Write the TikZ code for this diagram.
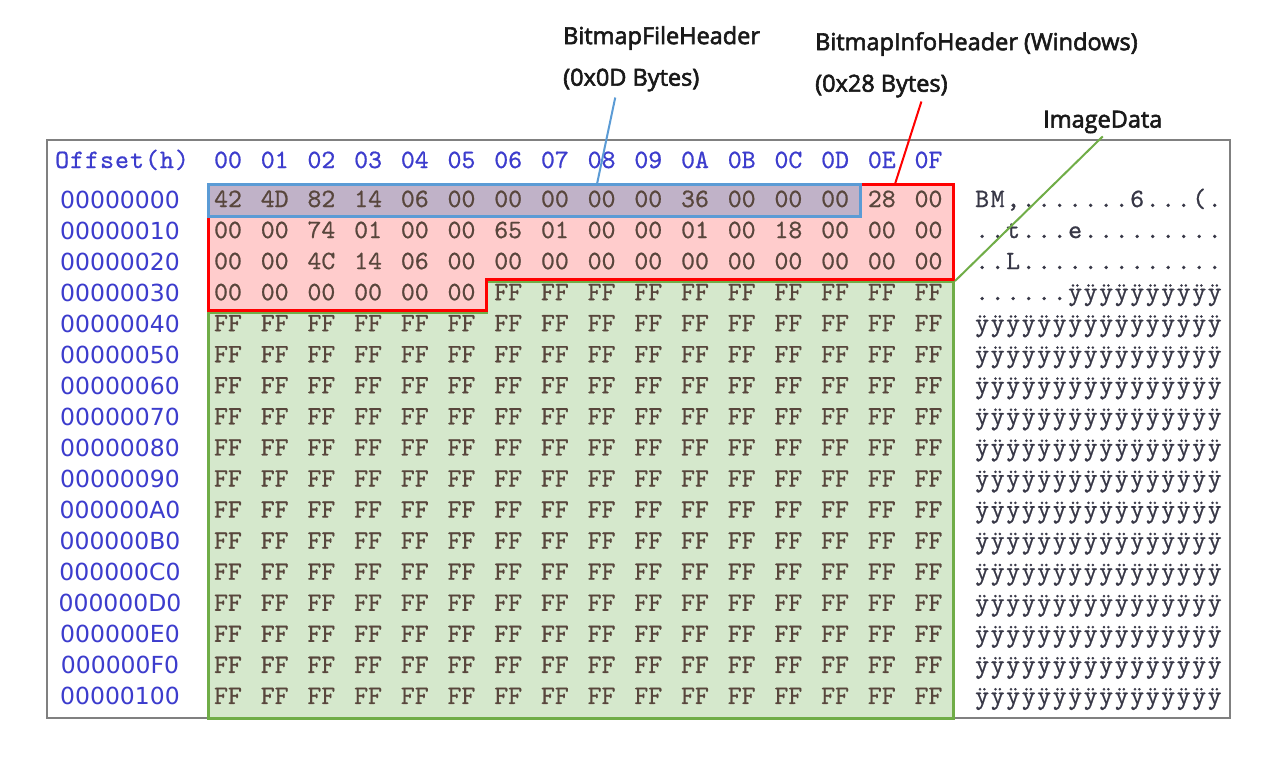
\documentclass[tikz,border=0pt]{standalone}
\usepackage{fontspec}
\usetikzlibrary{positioning}
\newfontfamily\lblfont[FakeBold=2.5]{Open Sans}
\newfontfamily\hexfont[FakeBold=0.7]{lmmono10-regular.otf}
\newfontfamily\headfont[FakeBold=0.7,LetterSpace=4]{lmmono10-regular.otf}
\newfontfamily\ascfont[FakeBold=0.7,LetterSpace=6]{lmmono10-regular.otf}
\newfontfamily\offfont{DejaVu Sans}
\definecolor{fhblue}{RGB}{91,155,213}
\definecolor{fhfill}{RGB}{192,178,200}
\definecolor{ihred}{RGB}{255,0,0}
\definecolor{ihfill}{RGB}{255,204,204}
\definecolor{idgreen}{RGB}{112,173,71}
\definecolor{idfill}{RGB}{213,232,204}
\definecolor{offblue}{RGB}{60,60,205}
\definecolor{hextext}{RGB}{88,70,60}
\definecolor{asctext}{RGB}{55,55,70}
\definecolor{lbltext}{RGB}{25,25,25}
\tikzset{
  panel/.style={draw=black!50, line width=1.5pt, fill=white},
  hexcell/.style={font=\hexfont\fontsize{26.5}{28}\selectfont, text=hextext, inner sep=0pt, anchor=base},
  colhead/.style={hexcell, text=offblue},
  offcell/.style={font=\offfont\fontsize{23.5}{26}\selectfont, text=offblue, inner sep=0pt, anchor=base},
  asccell/.style={font=\ascfont\fontsize{26.5}{28}\selectfont, text=asctext, inner sep=0pt, anchor=base west},
  lbl/.style={font=\lblfont\fontsize{23.5}{26}\selectfont, text=lbltext, inner sep=0pt, anchor=west},
  fhbox/.style={draw=fhblue, fill=fhfill, line width=3pt},
  ihbox/.style={draw=ihred, fill=ihfill, line width=3pt},
  idbox/.style={draw=idgreen, fill=idfill, line width=3pt},
  fhline/.style={draw=fhblue, line width=2pt},
  ihline/.style={draw=ihred, line width=2pt},
  idline/.style={draw=idgreen, line width=2pt}
}
\begin{document}
\begin{tikzpicture}[x=1pt, y=-1pt]
  \useasboundingbox (0,0) rectangle (1270,756);
  % hex editor panel
  \draw[panel] (47,140) rectangle (1230,718);
  % marked regions
  \draw[idbox] (208,312) -- (486,312) -- (486,281) -- (953,281) -- (953,718) -- (208,718) -- cycle;
  \draw[ihbox] (208,184) -- (953,184) -- (953,279) -- (486,279) -- (486,310) -- (208,310) -- cycle;
  \draw[fhbox] (208,184) rectangle (860,216);
  % header row
  \node[colhead, anchor=base west, font=\headfont\fontsize{26.5}{28}\selectfont] (ofshead) at (55,168) {Offset(h)};
  \foreach \h [count=\c from 0] in {00,01,02,03,04,05,06,07,08,09,0A,0B,0C,0D,0E,0F}
    \node[colhead] (col\c) at (228+46.7*\c,168) {\h};
  % offsets
  \foreach \o [count=\r from 0] in {00000000,00000010,00000020,00000030,00000040,00000050,00000060,00000070,00000080,00000090,000000A0,000000B0,000000C0,000000D0,000000E0,000000F0,00000100}
    \node[offcell] (ofs\r) at (120,208+31.06*\r) {\o};
  % bytes
  \foreach \bytes [count=\r from 0] in {{42,4D,82,14,06,00,00,00,00,00,36,00,00,00,28,00},{00,00,74,01,00,00,65,01,00,00,01,00,18,00,00,00},{00,00,4C,14,06,00,00,00,00,00,00,00,00,00,00,00},{00,00,00,00,00,00,FF,FF,FF,FF,FF,FF,FF,FF,FF,FF}}
    \foreach \b [count=\c from 0] in \bytes
      \node[hexcell] (b\r-\c) at (228+46.7*\c,207+31.06*\r) {\b};
  \foreach \r in {4,...,16}
    \foreach \c in {0,...,15}
      \node[hexcell] (b\r-\c) at (228+46.7*\c,207+31.06*\r) {FF};
  % ascii column
  \node[asccell] (asc0) at (975,207) {BM,.......6...(.};
  \node[asccell] (asc1) at (975,238.06) {..t...e.........};
  \node[asccell] (asc2) at (975,269.12) {..L.............};
  \node[asccell] (asc3) at (975,300.18) {......ÿÿÿÿÿÿÿÿÿÿ};
  \foreach \r in {4,5,6,7,8,9,10,11,12,13,14,15,16}
    \node[asccell] (asc\r) at (975,207+31.06*\r) {ÿÿÿÿÿÿÿÿÿÿÿÿÿÿÿÿ};
  % labels
  \node[lbl] (fhname) at (563,38) {BitmapFileHeader};
  \node[lbl] (fhsize) at (563,80) {(0x0D Bytes)};
  \node[lbl] (ihname) at (815,44) {BitmapInfoHeader (Windows)};
  \node[lbl] (ihsize) at (815,86) {(0x28 Bytes)};
  \node[lbl] (idname) at (1043,122) {ImageData};
  \coordinate (fhtip) at (597,184);
  \coordinate (ihtip) at (895,184);
  \coordinate (idtip) at (955,281);
  \draw[fhline] ([xshift=-16pt,yshift=-6pt]fhsize.south) -- (fhtip);
  \draw[ihline] ([xshift=40pt,yshift=-4pt]ihsize.south) -- (ihtip);
  \draw[idline] ([yshift=-3pt]idname.south) -- (idtip);
\end{tikzpicture}
\end{document}
